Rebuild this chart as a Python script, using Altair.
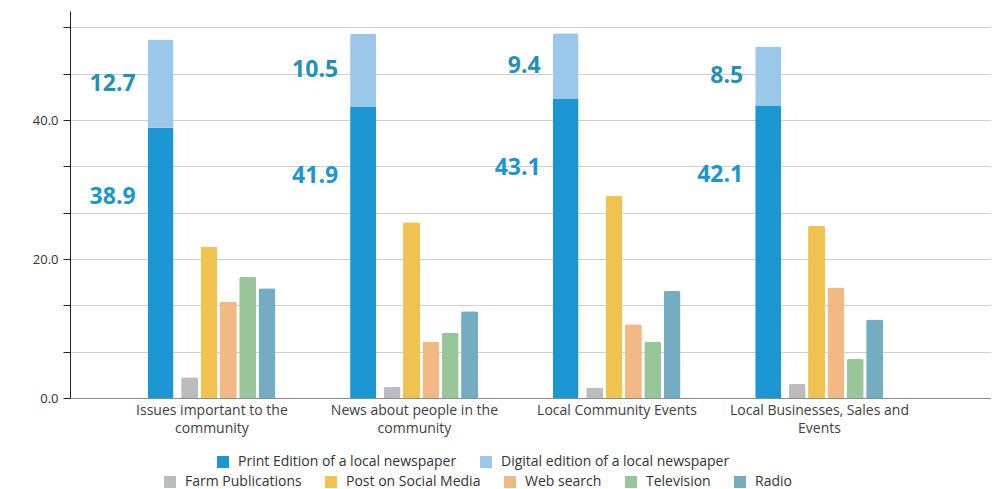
import altair as alt
import pandas as pd

categories = [
    "Issues important to the\ncommunity",
    "News about people in the\ncommunity",
    "Local Community Events",
    "Local Businesses, Sales and\nEvents",
]
paper_series = ["Print Edition of a local newspaper", "Digital edition of a local newspaper"]
other_series = ["Farm Publications", "Post on Social Media", "Web search", "Television", "Radio"]

print_vals = [38.9, 41.9, 43.1, 42.1]
digital_vals = [12.7, 10.5, 9.4, 8.5]
farm_vals = [3.0, 1.6, 1.5, 2.0]
social_vals = [21.8, 25.3, 29.1, 24.8]
web_vals = [13.9, 8.1, 10.6, 15.9]
tv_vals = [17.4, 9.4, 8.1, 5.6]
radio_vals = [15.8, 12.5, 15.4, 11.3]

y_ticks = [0, 20 / 3, 40 / 3, 20, 80 / 3, 100 / 3, 40, 140 / 3, 160 / 3]

paper_colors = ["#1b96d2", "#9bc7ea"]
other_colors = ["#bbbcbf", "#f0c350", "#f2b984", "#98c59a", "#74adc2"]

# slot grid inside each category (spacer slots keep the gaps between bars)
slots = ["Newspaper", "_s1", "_s2", other_series[0], "_s3", other_series[1], "_s4",
         other_series[2], "_s5", other_series[3], "_s6", other_series[4]]

paper_rows = []
for i, c in enumerate(categories):
    paper_rows.append({"category": c, "series": paper_series[0], "value": print_vals[i], "ord": 0, "slot": "Newspaper"})
    paper_rows.append({"category": c, "series": paper_series[1], "value": digital_vals[i], "ord": 1, "slot": "Newspaper"})
paper_df = pd.DataFrame(paper_rows)

other_rows = []
for s, vals in zip(other_series, [farm_vals, social_vals, web_vals, tv_vals, radio_vals]):
    for i, c in enumerate(categories):
        other_rows.append({"category": c, "series": s, "value": vals[i], "slot": s})
other_df = pd.DataFrame(other_rows)

label_df = pd.DataFrame({"category": categories, "print": print_vals, "digital": digital_vals, "slot": "Newspaper"})

FONT = "Open Sans"

x_enc = alt.X(
    "category:N",
    sort=categories,
    title=None,
    scale=alt.Scale(paddingInner=0.3645, paddingOuter=0.456, align=0.42),
    axis=alt.Axis(
        labelAngle=0,
        labelExpr="split(datum.label, '\\n')",
        labelFont=FONT,
        labelFontSize=14,
        labelColor="#404040",
        labelPadding=5,
        labelLineHeight=18,
        ticks=False,
        domainColor="#8c8c8c",
        domainWidth=1.2,
        grid=False,
    ),
)
xoff_enc = alt.XOffset(
    "slot:N",
    sort=slots,
    scale=alt.Scale(domain=slots, paddingInner=0, paddingOuter=0.65, align=0.65),
)
y_scale = alt.Scale(domain=[0, 55.7], nice=False, zero=True)
y_axis = alt.Axis(
    values=y_ticks,
    labelExpr="abs(datum.value % 20) < 0.01 ? format(datum.value, '.1f') : ''",
    labelFont=FONT,
    labelFontSize=13,
    labelColor="#333333",
    labelPadding=5,
    tickSize=7,
    tickColor="#222222",
    domainColor="#222222",
    gridColor="#cfcfcf",
    gridWidth=1,
    title=None,
)

legend_common = dict(
    title=None, orient="none", direction="horizontal",
    symbolType="square", symbolSize=144, symbolStrokeWidth=0, labelFont=FONT,
    labelFontSize=14, labelColor="#333333", labelOffset=8, columnPadding=22,
    labelLimit=400,
)

paper = alt.Chart(paper_df).mark_bar(
    size=26, cornerRadiusTopLeft=2, cornerRadiusTopRight=2
).encode(
    x=x_enc,
    xOffset=xoff_enc,
    y=alt.Y("value:Q", stack="zero", scale=y_scale, axis=y_axis),
    order=alt.Order("ord:Q"),
    color=alt.Color(
        "series:N",
        scale=alt.Scale(domain=paper_series, range=paper_colors),
        legend=alt.Legend(legendX=146, legendY=444, **legend_common),
    ),
)

others = alt.Chart(other_df).mark_bar(
    size=17, cornerRadiusTopLeft=2, cornerRadiusTopRight=2
).encode(
    x=x_enc,
    xOffset=xoff_enc,
    y=alt.Y("value:Q", scale=y_scale, axis=y_axis),
    color=alt.Color(
        "series:N",
        scale=alt.Scale(domain=other_series, range=other_colors),
        legend=alt.Legend(legendX=93, legendY=464, **legend_common),
    ),
)

print_labels = alt.Chart(label_df).transform_calculate(
    ypos="datum.print - 10", txt="format(datum.print, '.1f')"
).mark_text(
    align="right", baseline="middle", dx=-25, font=FONT, fontSize=23, fontWeight="bold", color="#1b96d2"
).encode(x=x_enc, xOffset=xoff_enc, y=alt.Y("ypos:Q", scale=y_scale), text="txt:N")

digital_labels = alt.Chart(label_df).transform_calculate(
    ypos="datum.print + datum.digital / 2", txt="format(datum.digital, '.1f')"
).mark_text(
    align="right", baseline="middle", dx=-25, font=FONT, fontSize=23, fontWeight="bold", color="#2590b5"
).encode(x=x_enc, xOffset=xoff_enc, y=alt.Y("ypos:Q", scale=y_scale), text="txt:N")

chart = alt.layer(paper, others, print_labels, digital_labels).resolve_scale(
    color="independent"
).properties(
    width=921,
    height=387,
    autosize=alt.AutoSizeParams(type="none"),
    padding={"left": 62, "top": 3, "right": 0, "bottom": 91},
    background="white",
).configure_view(stroke=None)

chart.save("out.html", embed_options={"renderer": "svg", "actions": False})
